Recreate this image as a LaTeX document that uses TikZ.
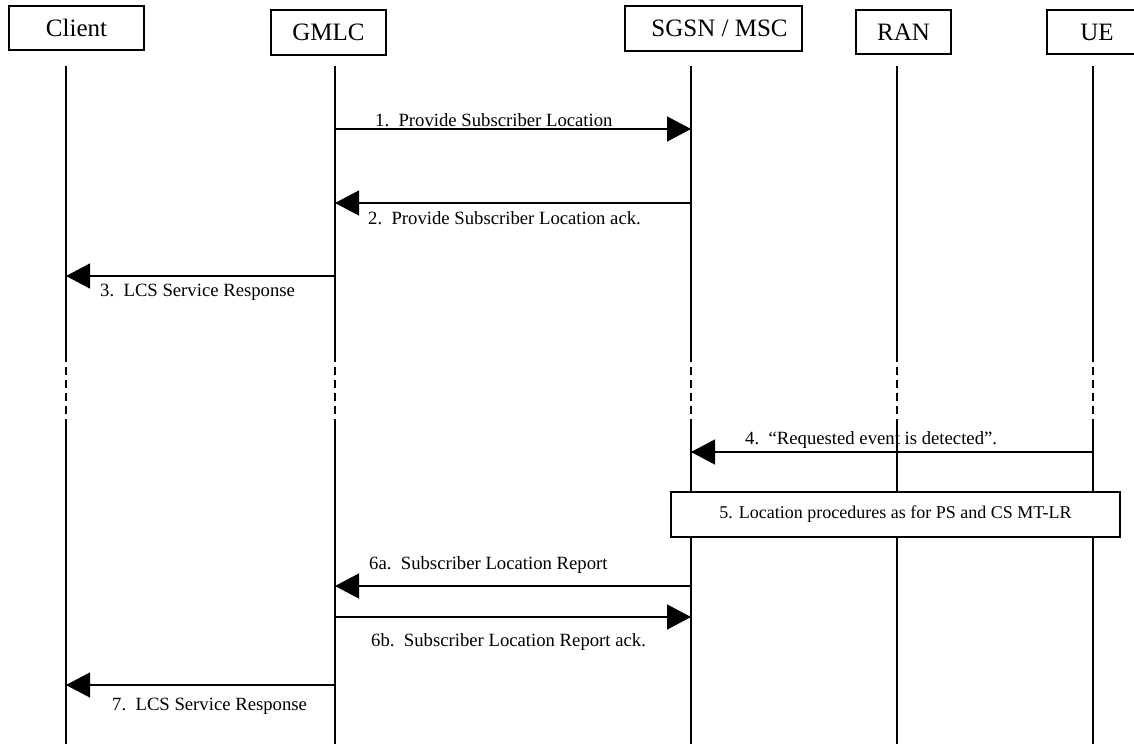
\documentclass[tikz,border=0pt]{standalone}
\usepackage{fontspec}
\setmainfont{Liberation Serif}
\usetikzlibrary{arrows.meta}
\begin{document}
\begin{tikzpicture}[x=1pt,y=-1pt,
  hdr/.style={draw,line width=1.2pt,inner sep=0pt,font=\fontsize{25}{30}\selectfont},
  life/.style={line width=1.3pt},
  dlife/.style={line width=1.3pt,dash pattern=on 8pt off 5pt},
  msg/.style={line width=1.3pt,-{Triangle[length=24pt,width=25pt]}},
  lbl/.style={anchor=base west,inner sep=0pt,font=\fontsize{18.7}{22}\selectfont},
  procbox/.style={draw,fill=white,line width=1.2pt,inner sep=0pt,minimum width=449pt,minimum height=45pt,font=\fontsize{18}{22}\selectfont}]
\clip (0,0) rectangle (1134,744);
\fill[white] (0,0) rectangle (1134,744);

% headers
\node[hdr,minimum width=135pt,minimum height=44pt] (client) at (76.5,28) {Client};
\node[hdr,minimum width=115pt,minimum height=45pt] (gmlc) at (328.5,32.5) {GMLC};
\node[hdr,minimum width=177pt,minimum height=45pt] (sgsn) at (713.5,28.5) {\hspace{12pt}SGSN / MSC};
\node[hdr,minimum width=95pt,minimum height=44pt] (ran) at (903.5,32) {RAN};
\node[hdr,minimum width=100pt,minimum height=44pt] (ue) at (1097,32) {UE};

% lifeline coordinates
\foreach \n/\x in {c/66,g/335,s/691,r/897,u/1093}{
  \coordinate (\n0) at (\x,66);
  \coordinate (\n1) at (\x,354);
  \coordinate (\n2) at (\x,422);
  \coordinate (\n3) at (\x,744);
}
\foreach \n in {c,g,s,r,u}{
  \draw[life] (\n0) -- (\n1);
  \draw[dlife] (\n1) -- (\n2);
  \draw[life] (\n2) -- (\n3);
}

% message anchor points
\coordinate (g1m) at (335,129); \coordinate (s1m) at (691,129);
\coordinate (s2m) at (691,203); \coordinate (g2m) at (335,203);
\coordinate (g3m) at (335,276); \coordinate (c3m) at (66,276);
\coordinate (u4m) at (1093,452); \coordinate (s4m) at (691,452);
\coordinate (s6am) at (691,586); \coordinate (g6am) at (335,586);
\coordinate (g6bm) at (335,617); \coordinate (s6bm) at (691,617);
\coordinate (g7m) at (335,685); \coordinate (c7m) at (66,685);

\draw[msg] (g1m) -- (s1m);
\draw[msg] (s2m) -- (g2m);
\draw[msg] (g3m) -- (c3m);
\draw[msg] (u4m) -- (s4m);
\draw[msg] (s6am) -- (g6am);
\draw[msg] (g6bm) -- (s6bm);
\draw[msg] (g7m) -- (c7m);

% labels
\node[lbl] (l1) at (375,126) {1.\ \ Provide Subscriber Location};
\node[lbl] (l2) at (368,224) {2.\ \ Provide Subscriber Location ack.};
\node[lbl] (l3) at (100,296) {3.\ \ LCS Service Response};
\node[lbl] (l4) at (745,444) {4.\ \ “Requested event is detected”.};
\node[lbl] (l6a) at (369,569) {6a.\ \ Subscriber Location Report};
\node[lbl] (l6b) at (371,646) {6b.\ \ Subscriber Location Report ack.};
\node[lbl] (l7) at (112,710) {7.\ \ LCS Service Response};

% procedure box
\node[procbox] (proc) at (895.5,514.5) {5. Location procedures as for PS and CS MT-LR};
\end{tikzpicture}
\end{document}
